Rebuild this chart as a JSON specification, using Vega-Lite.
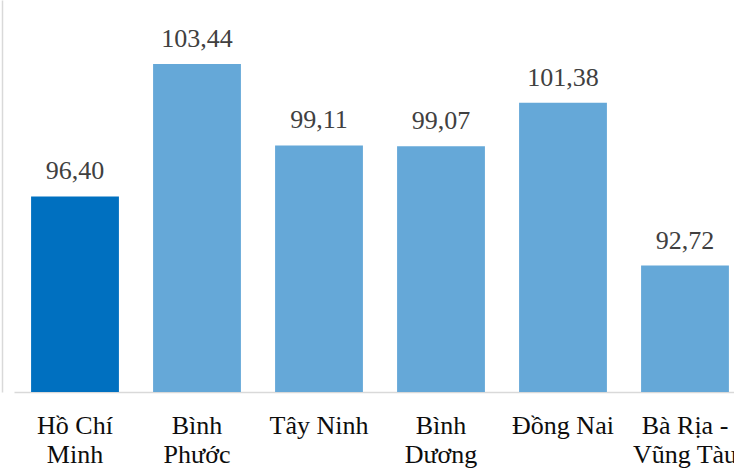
{
  "$schema": "https://vega.github.io/schema/vega-lite/v6.json",
  "width": 720,
  "height": 392,
  "autosize": {"type": "none"},
  "padding": {"left": 14, "top": 0, "right": 0, "bottom": 76},
  "background": "white",
  "config": {
    "view": {"stroke": null},
    "locale": {"number": {"decimal": ",", "thousands": ".", "grouping": [3], "currency": ["", " đ"]}}
  },
  "data": {
    "values": [
      {"name": "Hồ Chí Minh", "value": 96.40, "hl": "yes"},
      {"name": "Bình Phước", "value": 103.44, "hl": "no"},
      {"name": "Tây Ninh", "value": 99.11, "hl": "no"},
      {"name": "Bình Dương", "value": 99.07, "hl": "no"},
      {"name": "Đồng Nai", "value": 101.38, "hl": "no"},
      {"name": "Bà Rịa - Vũng Tàu", "value": 92.72, "hl": "no"}
    ]
  },
  "encoding": {
    "x": {
      "field": "name",
      "type": "nominal",
      "sort": null,
      "scale": {"range": [0, 732], "paddingInner": 0.28, "paddingOuter": 0.14},
      "axis": {
        "title": null,
        "labelAngle": 0,
        "ticks": false,
        "domainColor": "#d9d9d9",
        "domainWidth": 1.5,
        "labelFont": "Liberation Serif",
        "labelFontSize": 26,
        "labelColor": "#0d0d0d",
        "labelPadding": 20,
        "labelLineHeight": 29,
        "labelBaseline": "top",
        "labelLimit": 0,
        "labelOverlap": false,
        "labelExpr": "datum.value == 'Hồ Chí Minh' ? ['Hồ Chí', 'Minh'] : datum.value == 'Bình Phước' ? ['Bình', 'Phước'] : datum.value == 'Bình Dương' ? ['Bình', 'Dương'] : datum.value == 'Bà Rịa - Vũng Tàu' ? ['Bà Rịa -', 'Vũng Tàu'] : datum.value"
      }
    },
    "y": {
      "field": "value",
      "type": "quantitative",
      "scale": {"domain": [86, 106.84], "zero": false, "nice": false},
      "axis": {
        "title": null,
        "labels": false,
        "ticks": false,
        "grid": false,
        "domainColor": "#d9d9d9",
        "domainWidth": 1.5,
        "offset": 12
      }
    }
  },
  "layer": [
    {
      "mark": {"type": "bar", "clip": true},
      "encoding": {
        "color": {
          "field": "hl",
          "type": "nominal",
          "scale": {"domain": ["yes", "no"], "range": ["#0070c0", "#65a8d8"]},
          "legend": null
        }
      }
    },
    {
      "mark": {
        "type": "text",
        "baseline": "alphabetic",
        "dy": -17,
        "font": "Liberation Serif",
        "fontSize": 26,
        "color": "#404040"
      },
      "encoding": {
        "text": {"field": "value", "type": "quantitative", "format": ".2f"}
      }
    }
  ]
}
